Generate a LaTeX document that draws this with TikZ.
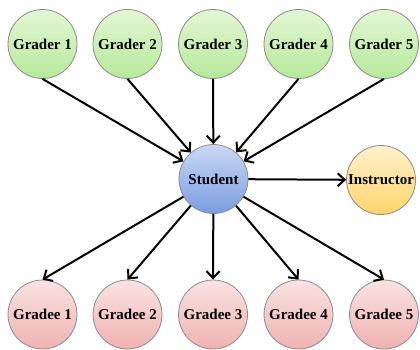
\documentclass[tikz,border=0pt]{standalone}
\usepackage{fontspec}
\setmainfont{Liberation Serif}
\usepackage{tikz}
\usetikzlibrary{positioning,arrows.meta,shapes,calc}
\definecolor{grTop}{HTML}{E3F6D4}
\definecolor{grBot}{HTML}{B6E99A}
\definecolor{stTop}{HTML}{CAD8F3}
\definecolor{stBot}{HTML}{7A9CE2}
\definecolor{inTop}{HTML}{FFF1CC}
\definecolor{inBot}{HTML}{FFD46C}
\definecolor{geTop}{HTML}{FAE2E2}
\definecolor{geBot}{HTML}{F0B2B2}
\definecolor{rimGray}{HTML}{8C8C8C}

\begin{document}
\begin{tikzpicture}[
  x=1pt, y=1pt,
  font=\fontsize{15}{17}\selectfont\bfseries,
  role/.style={circle, draw=rimGray, line width=0.8pt, minimum size=69pt, inner sep=0pt},
  grader/.style={role, top color=grTop, bottom color=grBot},
  student/.style={role, top color=stTop, bottom color=stBot},
  instr/.style={role, top color=inTop, bottom color=inBot},
  gradee/.style={role, top color=geTop, bottom color=geBot},
  arr/.style={-{Straight Barb[length=7pt,width=13pt]}, line width=2pt},
]
\useasboundingbox (0,0) rectangle (420,349);
% graders
\node[grader] (g1) at (42.5,305) {Grader 1};
\node[grader] (g2) at (127.5,305) {Grader 2};
\node[grader] (g3) at (213,305) {Grader 3};
\node[grader] (g4) at (298.5,305) {Grader 4};
\node[grader] (g5) at (384,305) {Grader 5};
% student and instructor
\node[student] (stu) at (213.5,170) {Student};
\node[instr] (ins) at (381,169) {Instructor};
% gradees
\node[gradee] (e1) at (42.5,34.5) {Gradee 1};
\node[gradee] (e2) at (127.5,34.5) {Gradee 2};
\node[gradee] (e3) at (213,34.5) {Gradee 3};
\node[gradee] (e4) at (298.5,34.5) {Gradee 4};
\node[gradee] (e5) at (384,34.5) {Gradee 5};
% arrows
\draw[arr] (g1.south) -- (stu);
\draw[arr] (g2.south) -- (stu);
\draw[arr] (g3.south) -- (stu);
\draw[arr] (g4.south) -- (stu);
\draw[arr] (g5.south) -- (stu);
\draw[arr] (stu) -- (ins);
\draw[arr] (stu) -- (e1.north);
\draw[arr] (stu) -- (e2.north);
\draw[arr] (stu) -- (e3.north);
\draw[arr] (stu) -- (e4.north);
\draw[arr] (stu) -- (e5.north);
\end{tikzpicture}
\end{document}
